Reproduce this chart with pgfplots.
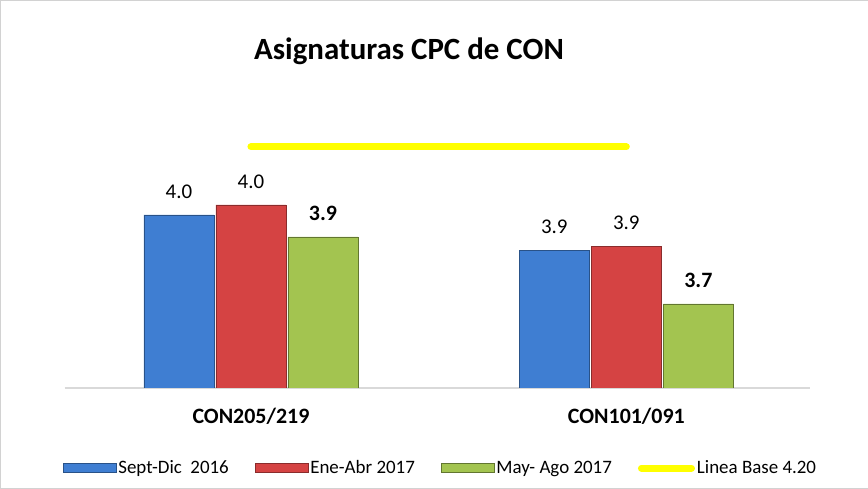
\documentclass[border=0pt]{standalone}
\usepackage{fontspec}
\setmainfont{Carlito}
\usepackage{pgfplots}
\pgfplotsset{compat=1.18}
\definecolor{serA}{HTML}{3F7ED2}
\definecolor{serB}{HTML}{D54343}
\definecolor{serC}{HTML}{A3C450}
\definecolor{baseY}{HTML}{FFFF00}

\pgfplotsset{
  barswatch/.style={legend image code/.code={\draw[##1] (0bp,-4.5bp) rectangle (53bp,4.5bp);}},
}

\begin{document}
\begin{tikzpicture}[x=1bp,y=1bp]
\draw[gray!35] (0.5,0.5) rectangle (867.5,488.5);
\node[font=\fontsize{31}{37}\selectfont\bfseries] at (409,437) {Asignaturas CPC de CON};
\begin{axis}[
    at={(65bp,101bp)}, anchor=south west,
    scale only axis,
    width=745bp, height=288bp,
    ybar=2bp,
    bar width=70bp,
    xmin=-0.496, xmax=1.49,
    ymin=3.432, ymax=4.35,
    xtick={0,1},
    xticklabels={CON205/219, CON101/091},
    xticklabel style={font=\fontsize{22}{26}\selectfont\bfseries, yshift=-14bp},
    xtick style={draw=none},
    axis x line=bottom,
    hide y axis,
    x axis line style={-, gray!30, line width=2bp},
    /pgf/number format/assume math mode=true,
    /pgf/number format/fixed,
    /pgf/number format/fixed zerofill,
    /pgf/number format/precision=1,
    nodes near coords,
    nodes near coords style={font=\fontsize{21}{25}\selectfont, yshift=13bp},
    legend style={at={(0.504,-0.278)}, anchor=center, draw=none, legend columns=4,
      font=\fontsize{19}{23}\selectfont, /tikz/every even column/.append style={column sep=24bp}},
    legend cell align=left,
]
\addplot[barswatch, fill=serA, draw=serA!65!black] coordinates {(0,3.983) (1,3.871)};
\addplot[barswatch, fill=serB, draw=serB!65!black] coordinates {(0,4.015) (1,3.884)};
\addplot[barswatch, fill=serC, draw=serC!60!black,
  nodes near coords style={font=\fontsize{22}{26}\selectfont\bfseries, yshift=0bp}]
  coordinates {(0,3.913) (1,3.70)};
\addplot[sharp plot, baseY, line width=7bp, line cap=round, nodes near coords=, no marks,
  legend image code/.code={\draw[baseY, line width=7bp, line cap=round] (3bp,0bp) -- (53bp,0bp);}]
  coordinates {(0,4.20) (1,4.20)};
\legend{Sept-Dic\ \ 2016, Ene-Abr 2017, May- Ago 2017, Linea Base 4.20}
\end{axis}
\end{tikzpicture}
\end{document}
